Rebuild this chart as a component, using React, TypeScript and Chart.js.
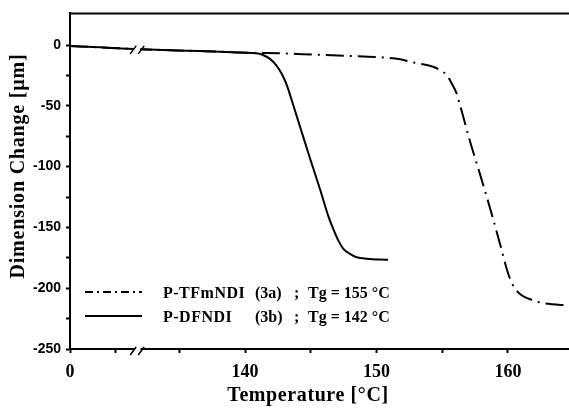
import React, { useEffect, useRef } from "react";
import { Chart, registerables } from "chart.js";

Chart.register(...registerables);

// Broken x axis: the "0" tick sits at axis value X_AXIS_ZERO, left segment compressed up to BREAK_AT
const X_AXIS_ZERO = 126.69;
const BREAK_AT = 131.8;
const LEFT_SPAN = 74;
const toAxis = (t: number) => (t < 100 ? X_AXIS_ZERO + (t * (BREAK_AT - X_AXIS_ZERO)) / LEFT_SPAN : t);

// common low-temperature part (°C, µm)
const baseTemp = [0, 33, 63, 134.3, 136.6, 138.6, 139.6];
const baseChange = [-0.8, -1.9, -3.0, -4.3, -5.0, -5.7, -6.2];

// P-DFNDI (3b)
const dfTemp = [...baseTemp, 140.99, 141.37, 141.9, 142.41, 142.79, 143.17, 143.42, 143.8, 144.18, 144.94, 145.7, 146.33, 146.71, 147.1, 147.48, 147.98, 148.49, 149.25, 150.88];
const dfChange = [...baseChange, -6.9, -8.2, -11.4, -17.1, -23.7, -32.7, -40.8, -53.9, -67.0, -93.1, -118.4, -140.5, -151.3, -160.9, -167.6, -171.7, -174.5, -175.8, -176.7];

// P-TFmNDI (3a)
const tfTemp = [...baseTemp, 143.4, 144.4, 148.0, 151.8, 152.6, 153.3, 154.3, 154.83, 155.34, 155.72, 156.1, 156.35, 157.11, 157.87, 158.63, 159.39, 159.9, 160.15, 160.53, 161.04, 161.54, 162.3, 162.81, 164.6];
const tfChange = [...baseChange, -7.1, -7.6, -9.0, -11.7, -13.9, -15.3, -17.9, -20.7, -24.8, -31.6, -40.0, -49.3, -79.2, -106.2, -134.0, -163.4, -184.0, -192.1, -200.3, -205.8, -208.5, -211.3, -212.6, -214.1];

const xTickTemps = [0, 50, 135, 140, 145, 150, 155, 160];
const xTickLabels = ["0", "", "", "140", "", "150", "", "160"];
const yTickValues = [-250, -225, -200, -175, -150, -125, -100, -75, -50, -25, 0];

const legendNames = ["P-TFmNDI", "P-DFNDI"];
const legendCodes = ["(3a)", "(3b)"];
const legendTg = ["Tg = 155 °C", "Tg = 142 °C"];

const xTitle = "Temperature [°C]";
const yTitle = "Dimension Change [µm]";

const SERIF = "'Liberation Serif', 'Times New Roman', serif";
const SANS = "'Liberation Sans', Arial, sans-serif";

const decorPlugin = {
  id: "decor",
  afterDraw(chart: any) {
    const ctx = chart.ctx as CanvasRenderingContext2D;
    const { left, right, top, bottom } = chart.chartArea;
    const xs = chart.scales.x;
    const ys = chart.scales.y;
    ctx.save();
    // top border
    ctx.strokeStyle = "#000";
    ctx.lineWidth = 2;
    ctx.beginPath();
    ctx.moveTo(left - 1, top);
    ctx.lineTo(right, top);
    ctx.stroke();

    // break marks
    const px = xs.getPixelForValue(BREAK_AT);
    const drawBreak = (cy: number) => {
      ctx.fillStyle = "#fff";
      ctx.beginPath();
      ctx.moveTo(px - 4, cy + 4);
      ctx.lineTo(px + 2, cy + 4);
      ctx.lineTo(px + 4, cy - 4);
      ctx.lineTo(px - 2, cy - 4);
      ctx.closePath();
      ctx.fill();
      ctx.strokeStyle = "#000";
      ctx.lineWidth = 1.5;
      ctx.beginPath();
      ctx.moveTo(px - 7, cy + 5);
      ctx.lineTo(px - 1, cy - 3);
      ctx.moveTo(px + 1, cy + 5);
      ctx.lineTo(px + 7, cy - 3);
      ctx.stroke();
    };
    drawBreak(bottom + 1);
    drawBreak(ys.getPixelForValue(-3.2));

    // legend
    const rows = [292, 316];
    const dashes = [[8, 4, 2, 4], []];
    for (let i = 0; i < 2; i++) {
      ctx.strokeStyle = "#000";
      ctx.lineWidth = 2;
      ctx.setLineDash(dashes[i]);
      ctx.beginPath();
      ctx.moveTo(85, rows[i]);
      ctx.lineTo(142, rows[i]);
      ctx.stroke();
      ctx.setLineDash([]);
      ctx.fillStyle = "#000";
      ctx.font = `bold 16px ${SERIF}`;
      ctx.textAlign = "left";
      ctx.textBaseline = "alphabetic";
      const by = rows[i] + 6;
      (ctx as any).letterSpacing = "0.5px";
      ctx.fillText(legendNames[i], 163, by);
      (ctx as any).letterSpacing = "0px";
      ctx.fillText(legendCodes[i], 255, by);
      ctx.fillText(";", 294, by);
      ctx.fillText(legendTg[i], 308, by);
    }

    // axis titles
    ctx.fillStyle = "#000";
    ctx.font = `bold 20px ${SERIF}`;
    (ctx as any).letterSpacing = "0.6px";
    ctx.textAlign = "center";
    ctx.textBaseline = "alphabetic";
    ctx.fillText(xTitle, 308, 401);
    ctx.save();
    ctx.translate(24, 166);
    ctx.rotate(-Math.PI / 2);
    (ctx as any).letterSpacing = "0.8px";
    ctx.fillText(yTitle, 0, 0);
    ctx.restore();
    ctx.restore();
  },
};

export default function App() {
  const ref = useRef<HTMLCanvasElement | null>(null);
  useEffect(() => {
    if (!ref.current) return;
    const mk = (ts: number[], vs: number[]) => ts.map((t, i) => ({ x: toAxis(t), y: vs[i] }));
    const chart = new Chart(ref.current, {
      type: "line",
      data: {
        datasets: [
          {
            label: "P-TFmNDI (3a)",
            data: mk(tfTemp, tfChange),
            borderColor: "#000",
            borderWidth: 2,
            borderDash: [18, 6, 2, 6],
            pointRadius: 0,
            cubicInterpolationMode: "monotone",
            fill: false,
          },
          {
            label: "P-DFNDI (3b)",
            data: mk(dfTemp, dfChange),
            borderColor: "#000",
            borderWidth: 2,
            pointRadius: 0,
            cubicInterpolationMode: "monotone",
            fill: false,
          },
        ],
      },
      options: {
        animation: false,
        responsive: false,
        layout: { padding: { top: 11, right: 0, left: 0, bottom: 0 } },
        plugins: { legend: { display: false }, tooltip: { enabled: false } },
        scales: {
          x: {
            type: "linear",
            min: X_AXIS_ZERO,
            max: 164.64,
            afterBuildTicks: (s: any) => {
              s.ticks = xTickTemps.map((t) => ({ value: toAxis(t) }));
            },
            afterFit: (s: any) => {
              s.height = 59;
            },
            ticks: {
              autoSkip: false,
              maxRotation: 0,
              padding: 9,
              color: "#000",
              font: { family: SERIF, size: 18, weight: "bold" },
              callback: (_v: any, i: number) => xTickLabels[i],
            },
            grid: { drawOnChartArea: false, drawTicks: true, tickLength: 4, tickWidth: 2, color: "#000" },
            border: { display: true, color: "#000", width: 2 },
          },
          y: {
            type: "linear",
            min: -250,
            max: 26,
            afterBuildTicks: (s: any) => {
              s.ticks = yTickValues.map((v) => ({ value: v }));
            },
            afterFit: (s: any) => {
              s.width = 70;
            },
            ticks: {
              autoSkip: false,
              padding: 5,
              color: "#000",
              font: { family: SANS, size: 14, weight: "bold" },
              callback: (v: any) => (v % 50 === 0 ? String(v) : ""),
            },
            grid: { drawOnChartArea: false, drawTicks: true, tickLength: 4, tickWidth: 2, color: "#000" },
            border: { display: true, color: "#000", width: 2 },
          },
        },
      },
      plugins: [decorPlugin],
    });
    return () => chart.destroy();
  }, []);
  return (
    <div style={{ position: "absolute", left: 0, top: 0, width: 569, height: 408, background: "#fff" }}>
      <canvas ref={ref} width={569} height={408} />
    </div>
  );
}
